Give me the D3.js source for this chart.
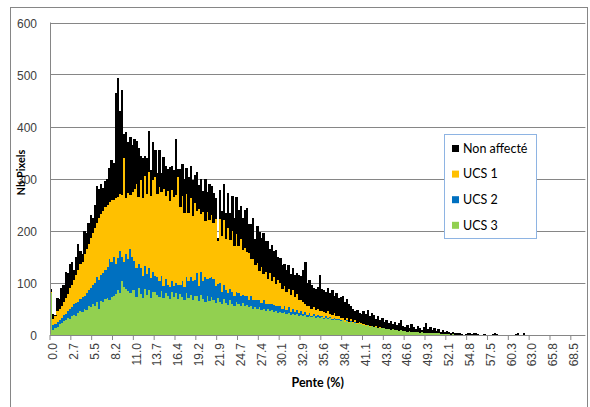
<!DOCTYPE html>
<html><head><meta charset="utf-8">
<script src="https://cdn.jsdelivr.net/npm/d3@7"></script>
<style>body{margin:0;background:#fff;} svg{display:block;font-family:Lato,"Open Sans",sans-serif;}</style>
</head><body><svg id="chart" width="590" height="407"></svg>
<script>
// x tick labels (Pente %), one every 10 categories
const tickLabels = ["0.0","2.7","5.5","8.2","11.0","13.7","16.4","19.2","21.9","24.7","27.4","30.1","32.9","35.6","38.4","41.1","43.8","46.6","49.3","52.1","54.8","57.5","60.3","63.0","65.8","68.5"];
const yTicks = [0,100,200,300,400,500,600];
const seriesNames = ["UCS 3","UCS 2","UCS 1","Non affecté"];
const seriesColors = ["#92D050","#0070C0","#FFC000","#000000"];

const ucs3 = [
80,8,12,15,20,22,26,28,32,30,
35,38,36,42,45,44,50,48,55,52,
58,55,62,50,65,63,68,70,66,72,
75,78,85,80,102,92,88,84,80,86,
86,72,90,78,70,88,76,85,70,82,
82,76,72,84,70,80,74,68,82,72,
80,68,78,72,66,80,70,76,66,74,
74,64,76,68,62,74,64,72,66,60,
70,62,58,68,60,56,66,58,54,62,
58,55,60,54,56,52,55,50,53,49,
52,48,50,46,49,45,47,44,46,42,
44,41,43,40,42,38,40,37,39,36,
38,35,37,34,36,33,35,32,34,31,
33,30,32,29,31,28,30,27,28,26,
27,24,26,23,25,22,23,21,22,20,
19,17,18,15,16,14,15,13,13,12,
12,10,11,9,10,8,9,7,8,6,
7,5,6,5,5,4,4,3,4,3,
3,2,3,2,2,2,2,1,1,1,
1,1,0,1,0,0,0,0,0,0,
0,0,0,0,0,0,0,0,0,0,
0,0,0,0,0,0,0,0,0,0,
0,0,0,0,0,0,0,0,0,0,
0,0,0,0,0,0,0,0,0,0,
0,0,0,0,0,0,0,0,0,0,
0,0,0,0,0,0,0];

const ucs2 = [
0,10,8,10,8,10,12,12,13,20,
17,20,24,20,23,28,25,32,30,38,
37,45,48,55,50,55,57,60,79,68,
75,57,63,80,48,48,67,61,85,64,
55,56,46,50,42,44,40,42,38,38,
30,34,30,28,24,26,22,24,20,22,
20,28,18,30,26,30,32,34,36,30,
44,30,45,34,48,32,44,38,40,34,
28,38,24,28,26,24,22,24,20,20,
22,20,16,21,18,15,20,16,14,18,
15,12,16,13,10,14,11,12,9,13,
10,8,11,7,10,6,9,7,8,5,
7,5,6,4,6,3,5,4,3,4,
3,2,3,2,3,1,2,2,1,2,
1,1,1,0,1,0,1,0,0,1,
0,0,0,0,0,0,0,0,0,0,
0,0,0,0,0,0,0,0,0,0,
0,0,0,0,0,0,0,0,0,0,
0,0,0,0,0,0,0,0,0,0,
0,0,0,0,0,0,0,0,0,0,
0,0,0,0,0,0,0,0,0,0,
0,0,0,0,0,0,0,0,0,0,
0,0,0,0,0,0,0,0,0,0,
0,0,0,0,0,0,0,0,0,0,
0,0,0,0,0,0,0,0,0,0,
0,0,0,0,0,0,0];

const ucs1 = [
2,12,15,20,22,23,24,30,33,40,
43,47,55,63,67,68,80,85,90,95,
100,105,105,120,117,120,120,120,110,118,
108,127,117,110,118,199,107,127,103,125,
138,162,128,170,150,172,155,185,158,178,
190,160,182,163,186,160,180,165,175,170,
168,206,150,165,142,160,132,152,125,148,
120,148,110,134,108,130,112,120,108,128,
82,122,108,124,98,125,94,118,96,112,
90,108,86,92,84,90,70,80,66,70,
56,70,50,62,48,60,44,55,42,50,
45,38,40,35,36,32,36,28,31,26,
21,22,15,17,12,14,12,11,13,10,
9,12,7,14,6,9,10,6,7,4,
4,3,5,2,4,2,3,2,2,1,
1,2,1,1,0,1,1,0,1,0,
0,0,0,0,0,0,0,0,0,0,
0,0,0,0,0,0,0,0,0,0,
0,0,0,0,0,0,0,0,0,0,
0,0,0,0,0,0,0,0,0,0,
0,0,0,0,0,0,0,0,0,0,
0,0,0,0,0,0,0,0,0,0,
0,0,0,0,0,0,0,0,0,0,
0,0,0,0,0,0,0,0,0,0,
0,0,0,0,0,0,0,0,0,0,
0,0,0,0,0,0,0];

const nonAffecte = [
5,10,3,25,18,35,33,50,40,45,
45,20,35,50,25,15,45,30,40,45,
30,45,70,55,58,44,50,50,65,77,
72,203,228,160,202,46,128,98,112,90,
97,83,95,45,78,40,68,80,50,72,
53,40,70,35,62,58,42,66,48,52,
108,17,72,60,65,50,68,62,70,55,
75,45,68,40,82,38,70,55,58,40,
5,55,48,70,50,68,52,66,55,70,
70,65,62,72,85,55,68,78,50,72,
75,55,80,58,72,45,70,50,65,45,
49,46,42,42,45,40,42,42,40,48,
46,63,82,44,51,45,38,41,42,69,
43,41,40,45,40,48,33,45,34,40,
43,34,36,33,25,26,18,25,18,18,
25,21,29,19,26,23,14,22,14,20,
13,18,11,17,10,16,9,15,20,10,
8,13,6,15,9,6,12,9,4,11,
19,8,11,6,10,4,8,4,7,3,
5,3,3,4,2,3,2,1,0,1,
2,2,1,2,2,1,0,0,1,0,
0,0,1,2,1,0,0,0,0,0,
0,0,0,1,2,0,0,2,0,0,
0,0,0,0,0,0,0,0,0,0,
0,0,0,0,0,0,0,0,0,0,
0,0,0,0,0,0,0];

const seriesValues = [ucs3, ucs2, ucs1, nonAffecte];
const N = ucs3.length;
const categories = d3.range(N);
const table = categories.map(i => {
  const row = {cat: i};
  seriesNames.forEach((s, k) => row[s] = seriesValues[k][i]);
  return row;
});

const svg = d3.select("#chart");
const plotLeft = 50, plotRight = 585.4, plotTop = 22.5, plotBottom = 334.5;
const gridColor = "#868686", textColor = "#404040";

// outer chart border
svg.append("rect").attr("x",10.5).attr("y",7.5).attr("width",577).attr("height",420)
  .attr("fill","none").attr("stroke","#868686");

const x = d3.scaleBand().domain(categories).range([plotLeft, plotRight]).padding(0);
const y = d3.scaleLinear().domain([0, 600]).range([plotBottom, plotTop]);

// gridlines
svg.append("g").selectAll("line").data(yTicks.filter(d => d > 0)).join("line")
  .attr("x1", plotLeft).attr("x2", plotRight)
  .attr("y1", d => Math.round(y(d)) + 0.5).attr("y2", d => Math.round(y(d)) + 0.5)
  .attr("stroke", gridColor).attr("stroke-width", 1);

// stacked bars
const stack = d3.stack().keys(seriesNames)(table);
svg.append("g").selectAll("g").data(stack).join("g")
  .attr("fill", (d, k) => seriesColors[k])
  .selectAll("rect").data(d => d.filter(p => p[1] > p[0])).join("rect")
  .attr("x", p => x(p.data.cat))
  .attr("width", x.bandwidth() + 0.3)
  .attr("y", p => y(p[1]))
  .attr("height", p => y(p[0]) - y(p[1]))
  .attr("shape-rendering", "crispEdges");

// y axis
const yAxis = svg.append("g").attr("transform", `translate(${plotLeft},0)`)
  .call(d3.axisLeft(y).tickValues(yTicks).tickSize(0).tickPadding(13).tickFormat(d3.format("d")));
yAxis.select(".domain").remove();
yAxis.selectAll("text").attr("fill", textColor).attr("font-size", "12px").attr("dy", "0.45em");
svg.append("line").attr("x1", plotLeft + 0.5).attr("x2", plotLeft + 0.5).attr("y1", plotTop).attr("y2", plotBottom)
  .attr("stroke", gridColor);

// x axis
const tickIdx = categories.filter(i => i % 10 === 0 && i / 10 < tickLabels.length);
const xAxis = svg.append("g").attr("transform", `translate(0,${Math.round(plotBottom)})`)
  .call(d3.axisBottom(x).tickValues(tickIdx).tickSize(5).tickFormat(d => tickLabels[d / 10]));
xAxis.select(".domain").remove();
xAxis.selectAll(".tick line").attr("transform", `translate(${-x.bandwidth() / 2},0)`).attr("stroke", gridColor);
xAxis.selectAll(".tick text")
  .attr("transform", "rotate(-90)")
  .attr("text-anchor", "end")
  .attr("x", -8).attr("y", 2).attr("dy", "0.35em")
  .attr("fill", textColor).attr("font-size", "12px");
svg.append("line").attr("x1", plotLeft).attr("x2", plotRight).attr("y1", Math.round(plotBottom) + 0.5).attr("y2", Math.round(plotBottom) + 0.5)
  .attr("stroke", gridColor);

// axis titles
svg.append("text").attr("x", (plotLeft + plotRight) / 2).attr("y", 387).attr("text-anchor", "middle")
  .attr("font-weight", "bold").attr("font-size", "12.5px").attr("fill", "#000").text("Pente (%)");
svg.append("text").attr("transform", `translate(25,${(plotTop + plotBottom) / 2 - 6}) rotate(-90)`)
  .attr("text-anchor", "middle").attr("font-weight", "bold").attr("font-size", "11px").attr("fill", "#000")
  .text("Nb Pixels");

// legend
const legend = svg.append("g");
legend.append("rect").attr("x", 444.5).attr("y", 134.5).attr("width", 92).attr("height", 104)
  .attr("fill", "#fff").attr("stroke", "#8EB4E3");
const legendOrder = [3, 2, 1, 0];
legendOrder.forEach((k, j) => {
  const cy = 148.5 + j * 25.6;
  legend.append("rect").attr("x", 452).attr("y", cy - 3.5).attr("width", 7).attr("height", 7).attr("fill", seriesColors[k]);
  legend.append("text").attr("x", 463).attr("y", cy).attr("dy", "0.35em")
    .attr("font-size", "12.5px").attr("fill", "#000").text(seriesNames[k]);
});
</script></body></html>
